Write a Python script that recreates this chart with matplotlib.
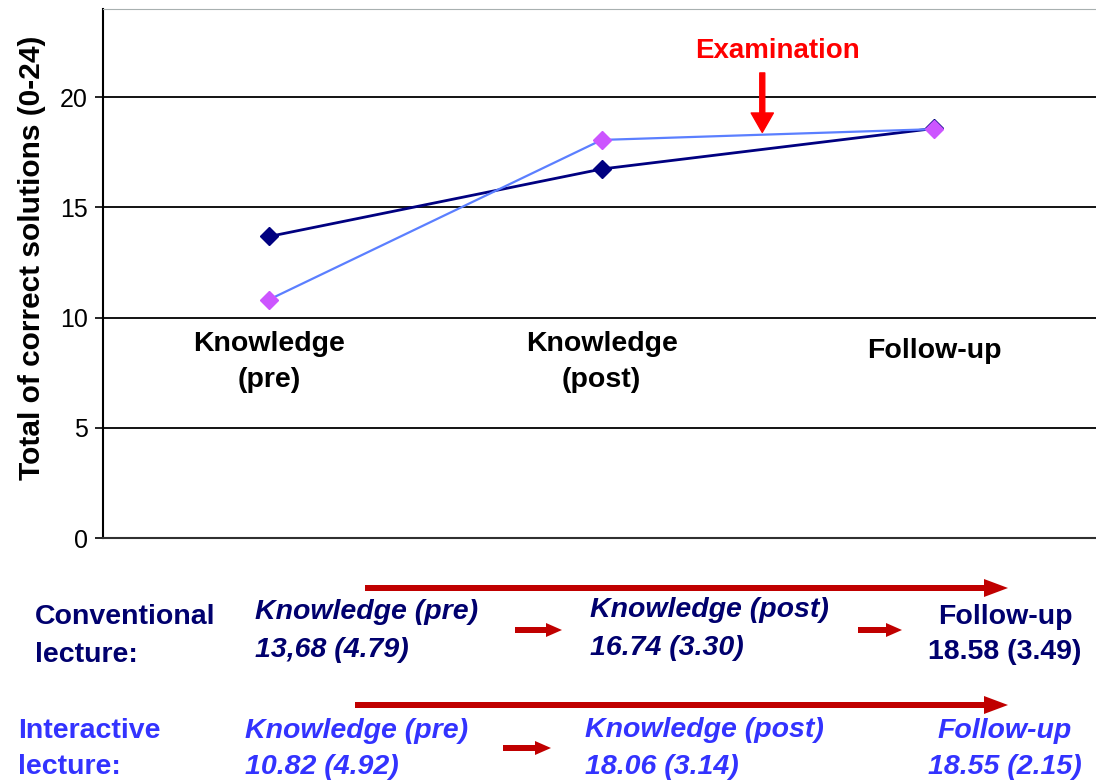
import matplotlib
matplotlib.use('Agg')
import matplotlib.pyplot as plt
from matplotlib.patches import FancyArrow

# data
stages = ['Knowledge\n(pre)', 'Knowledge\n(post)', 'Follow-up']
conv_mean = [13.68, 16.74, 18.58]
inter_mean = [10.82, 18.06, 18.55]
conv_txt = ['13,68 (4.79)', '16.74 (3.30)', '18.58 (3.49)']
inter_txt = ['10.82 (4.92)', '18.06 (3.14)', '18.55 (2.15)']
yticks = [0, 5, 10, 15, 20]

W, H = 1096, 783
navy = '#00006e'
blue = '#3333ff'
red = '#c00000'
fs = 20.5

plt.rcParams['font.family'] = ['Liberation Sans', 'DejaVu Sans']

fig = plt.figure(figsize=(W / 100, H / 100), dpi=100)
ax = fig.add_axes([103 / W, 1 - 538 / H, 1 - 103 / W + 0.004, (538 - 9) / H])

x = range(len(stages))
ax.plot(x, conv_mean, color='#000080', lw=2, marker='D', ms=9,
        mfc='#000080', mec='#000080', zorder=3)
ax.plot(x, inter_mean, color='#5b7fff', lw=1.6, marker='D', ms=9,
        mfc='#cc55ff', mec='#cc55ff', zorder=4)

ax.set_xlim(-0.5, 2.5)
ax.set_ylim(0, 24)
ax.set_yticks(yticks)
ax.set_xticks([])
ax.tick_params(axis='y', length=6, width=1.2, labelsize=18, pad=5)
for v in yticks[1:]:
    ax.axhline(v, color='black', lw=1.3, zorder=1)
ax.spines['left'].set_linewidth(1.5)
ax.spines['bottom'].set_color('#303030')
ax.spines['bottom'].set_linewidth(1.5)
ax.spines['top'].set_color('#a8b0b0')
ax.spines['right'].set_visible(False)
ax.set_ylabel('Total of correct solutions (0-24)', fontsize=21.5,
              fontweight='bold')
ax.yaxis.set_label_coords(-0.057, 0.53)

# stage names inside the plot
for i, s in enumerate(stages):
    yy = 8.0 if '\n' in s else 8.5
    ax.text(i, yy, s, ha='center', va='center', fontsize=fs,
            fontweight='bold', linespacing=1.5)

# examination marker
ax.annotate('', xy=(1.483, 18.4), xytext=(1.483, 21.1),
            arrowprops=dict(arrowstyle='simple,head_length=0.7,head_width=0.8,tail_width=0.18',
                            color='#ff0000', shrinkA=0, shrinkB=0, mutation_scale=20))
ax.text(1.53, 22.1, 'Examination', color='#ff0000', fontsize=20,
        fontweight='bold', ha='center', va='center')


def harrow(x0, x1, y, w, hw, hl):
    fig.patches.append(FancyArrow(x0 / W, 1 - y / H, (x1 - x0) / W, 0,
                                  width=w / H, head_width=hw / H,
                                  head_length=hl / W, length_includes_head=True,
                                  color=red, lw=0, transform=fig.transFigure,
                                  figure=fig))


def ftext(px, py, s, color, style='normal', ha='left'):
    fig.text(px / W, 1 - py / H, s, color=color, fontsize=fs,
             fontweight='bold', style=style, ha=ha, va='center')


# conventional lecture row
harrow(365, 1008, 588, 6, 18, 24)
ftext(35, 617, 'Conventional', navy)
ftext(35, 655, 'lecture:', navy)
ftext(255, 612, 'Knowledge (pre)', navy, 'italic')
ftext(255, 650, conv_txt[0], navy, 'italic')
harrow(515, 562, 630, 6, 14, 16)
ftext(590, 610, 'Knowledge (post)', navy, 'italic')
ftext(590, 648, conv_txt[1], navy, 'italic')
harrow(858, 902, 630, 6, 14, 16)
ftext(1005, 617, 'Follow-up', navy, ha='center')
ftext(1005, 652, conv_txt[2], navy, ha='center')

# interactive lecture row
harrow(355, 1008, 705, 6, 18, 24)
ftext(18, 731, 'Interactive', blue)
ftext(18, 767, 'lecture:', blue)
ftext(245, 731, 'Knowledge (pre)', blue, 'italic')
ftext(245, 767, inter_txt[0], blue, 'italic')
harrow(503, 551, 748, 6, 14, 16)
ftext(585, 730, 'Knowledge (post)', blue, 'italic')
ftext(585, 767, inter_txt[1], blue, 'italic')
ftext(1005, 731, 'Follow-up', blue, 'italic', ha='center')
ftext(1005, 767, inter_txt[2], blue, 'italic', ha='center')

fig.savefig('out.png', dpi=100)
